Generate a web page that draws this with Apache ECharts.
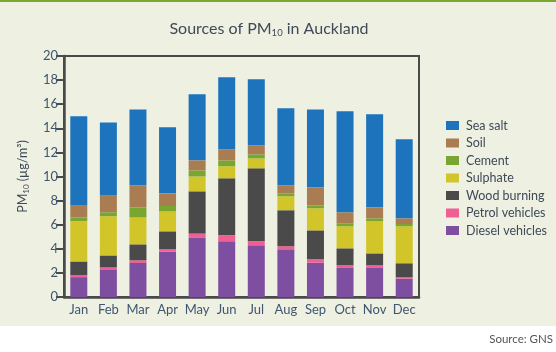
<!DOCTYPE html>
<html>
<head>
<meta charset="utf-8">
<script src="https://cdn.jsdelivr.net/npm/echarts@6/dist/echarts.min.js"></script>
<style>
  html, body { margin: 0; padding: 0; background: #ffffff; }
  #panel { position: absolute; left: 0; top: 0; width: 556px; height: 326px; background: #eef0e2; border-top: 2px solid #7aa72e; box-sizing: border-box; }
  #chart { position: absolute; left: 0; top: 0; width: 556px; height: 352px; }
</style>
</head>
<body>
<div id="panel"></div>
<div id="chart"></div>
<script>
// months along the x axis
const months = ["Jan", "Feb", "Mar", "Apr", "May", "Jun", "Jul", "Aug", "Sep", "Oct", "Nov", "Dec"];
const yTicks = [0, 2, 4, 6, 8, 10, 12, 14, 16, 18, 20];

// PM10 contributions (ug/m3), bottom of stack first
const diesel   = [1.65, 2.30, 2.82, 3.77, 4.90, 4.62, 4.29, 3.96, 2.85, 2.41, 2.41, 1.52];
const petrol   = [0.15, 0.15, 0.22, 0.19, 0.36, 0.50, 0.33, 0.25, 0.28, 0.22, 0.22, 0.11];
const wood     = [1.15, 1.00, 1.33, 1.49, 3.51, 4.73, 6.06, 2.99, 2.40, 1.41, 0.99, 1.17];
const sulphate = [3.35, 3.25, 2.23, 1.65, 1.23, 1.00, 0.82, 1.16, 1.83, 1.83, 2.66, 3.07];
const cement   = [0.30, 0.33, 0.84, 0.45, 0.51, 0.49, 0.34, 0.24, 0.24, 0.25, 0.25, 0.19];
const soil     = [1.00, 1.40, 1.83, 1.05, 0.83, 0.92, 0.75, 0.67, 1.50, 0.91, 0.91, 0.47];
const seaSalt  = [7.40, 6.05, 6.30, 5.48, 5.48, 5.97, 5.48, 6.39, 6.47, 8.38, 7.72, 6.56];

const seriesDefs = [
    { name: "Diesel vehicles", data: diesel, color: "#7e4fa0" },
    { name: "Petrol vehicles", data: petrol, color: "#ef5f94" },
    { name: "Wood burning", data: wood, color: "#4a4a4a" },
    { name: "Sulphate", data: sulphate, color: "#d2c52a" },
    { name: "Cement", data: cement, color: "#78a630" },
    { name: "Soil", data: soil, color: "#a97c52" },
    { name: "Sea salt", data: seaSalt, color: "#1d74bc" }
];

const textCol = "#3e4a58";
const labelCol = "#3f5670";
const axisCol = "#4a4a4a";
const font = "Lato";

var myChart = echarts.init(document.getElementById("chart"), null, { renderer: "canvas" });
var option = {
    backgroundColor: "transparent",
    animation: false,
    textStyle: { fontFamily: font },
    title: {
        text: "Sources of PM{sub|10} in Auckland",
        left: 264,
        textAlign: "center",
        top: 15,
        textStyle: {
            fontFamily: font,
            fontSize: 16,
            fontWeight: "normal",
            color: textCol,
            rich: {
                sub: { fontSize: 9.5, verticalAlign: "bottom", padding: [8, 0, 0, 0], color: textCol, fontFamily: font }
            }
        }
    },
    legend: {
        data: seriesDefs.map(s => s.name).reverse(),
        orient: "vertical",
        left: 441,
        top: 114,
        itemWidth: 13,
        itemHeight: 9,
        itemGap: 4.5,
        icon: "rect",
        textStyle: { fontFamily: font, fontSize: 12.5, color: textCol, padding: [0, 0, 0, 2] }
    },
    grid: {
        left: 64,
        right: 137,
        top: 56,
        bottom: 55,
        show: true,
        borderColor: axisCol,
        borderWidth: 2,
        backgroundColor: "transparent"
    },
    xAxis: {
        type: "category",
        data: months,
        axisLine: { lineStyle: { color: axisCol, width: 2.5 } },
        axisTick: { show: false },
        axisLabel: { interval: 0, color: labelCol, fontSize: 13, margin: 6, fontFamily: font }
    },
    yAxis: {
        type: "value",
        min: yTicks[0],
        max: yTicks[yTicks.length - 1],
        interval: 2,
        name: "PM{sub|10} (µg/m³)",
        nameLocation: "middle",
        nameGap: 34,
        nameRotate: 90,
        nameTextStyle: {
            fontFamily: font,
            fontSize: 12.5,
            color: textCol,
            rich: {
                sub: { fontSize: 8, verticalAlign: "bottom", padding: [6, 0, 0, 0], color: textCol, fontFamily: font }
            }
        },
        axisLine: { show: true, lineStyle: { color: axisCol, width: 2.5 } },
        axisTick: { show: true, length: 8, lineStyle: { color: axisCol, width: 2 } },
        splitLine: { show: false },
        axisLabel: { color: labelCol, fontSize: 13, margin: 6, fontFamily: font }
    },
    series: seriesDefs.map(s => ({
        name: s.name,
        type: "bar",
        stack: "pm",
        barWidth: 17,
        data: s.data,
        itemStyle: { color: s.color },
        emphasis: { disabled: true }
    })),
    graphic: [
        {
            type: "text",
            right: 3,
            top: 333,
            style: { text: "Source: GNS", fontFamily: font, fontSize: 11.5, fill: "#555555" }
        }
    ]
};
myChart.setOption(option);
window.addEventListener("resize", function () {
    myChart.resize();
});
</script>
</body>
</html>
